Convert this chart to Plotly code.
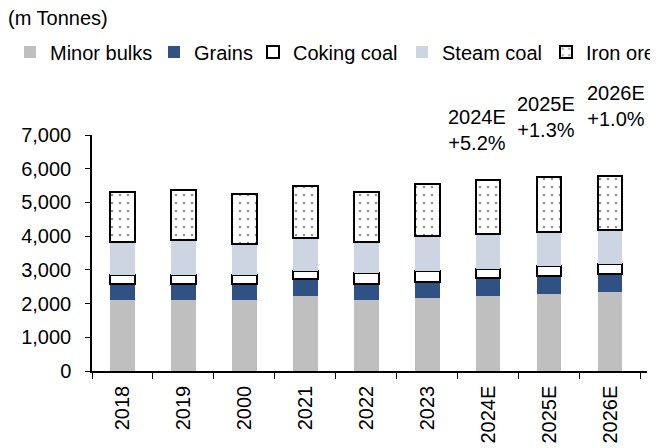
import plotly.graph_objects as go

categories = ["2018", "2019", "2000", "2021", "2022", "2023", "2024E", "2025E", "2026E"]
minor_bulks = [2110, 2110, 2110, 2225, 2110, 2165, 2225, 2285, 2345]
grains = [470, 470, 470, 495, 470, 485, 525, 545, 535]
coking_coal = [260, 280, 280, 255, 320, 315, 265, 290, 290]
steam_coal = [1000, 1030, 910, 960, 940, 1040, 1050, 990, 1000]
iron_ore = [1470, 1480, 1480, 1565, 1470, 1545, 1610, 1630, 1620]
y_ticks = [0, 1000, 2000, 3000, 4000, 5000, 6000, 7000]
growth_labels = [("2024E", "2024E<br>+5.2%"), ("2025E", "2025E<br>+1.3%"), ("2026E", "2026E<br>+1.0%")]

FONT = "Liberation Sans, Arial, sans-serif"
# page body adds an 8px offset; figure drawn 8px in from top-left
OFF = 8
W, H = 650, 440

fig = go.Figure()
fig.add_bar(x=categories, y=minor_bulks, name="Minor bulks", legend="legend",
            marker=dict(color="#BFBFBF", line=dict(width=0)))
fig.add_bar(x=categories, y=grains, name="Grains", legend="legend2",
            marker=dict(color="#2F5183", line=dict(width=0)))
fig.add_bar(x=categories, y=coking_coal, name="Coking coal", legend="legend3",
            marker=dict(color="#FFFFFF", line=dict(width=2, color="#000000")))
fig.add_bar(x=categories, y=steam_coal, name="Steam coal", legend="legend4",
            marker=dict(color="#CED5E2", line=dict(width=0)))
fig.add_bar(x=categories, y=iron_ore, name="Iron ore", legend="legend5",
            marker=dict(color="#FFFFFF", line=dict(width=2, color="#000000"),
                        pattern=dict(shape=".", fgcolor="#2A2A2A", bgcolor="#FFFFFF",
                                     size=8, solidity=0.09)))

shifts = {"2024E": (-11, 1.022), "2025E": (-3, 1.078), "2026E": (6, 1.125)}
for cat, txt in growth_labels:
    xs, yp = shifts[cat]
    fig.add_annotation(x=cat, xref="x", y=yp, yref="paper", text=txt, showarrow=False,
                       xshift=xs, yanchor="middle", xanchor="center",
                       font=dict(family=FONT, size=20, color="#000000"))

# text-start positions of legend entries (reference px)
leg_text_x = [51, 195, 294, 443, 587]
leg_common = dict(orientation="h", xref="container", yref="container",
                  y=1 - (52 - OFF) / H, xanchor="left", yanchor="middle",
                  itemwidth=30, bgcolor="rgba(0,0,0,0)",
                  font=dict(family=FONT, size=20, color="#000000"))
legends = {}
for i, tx in enumerate(leg_text_x):
    key = "legend" if i == 0 else f"legend{i + 1}"
    legends[key] = dict(leg_common, x=(tx - OFF - 41) / W)

fig.update_layout(
    width=W, height=H,
    barmode="stack", bargap=0.594,
    plot_bgcolor="#FFFFFF", paper_bgcolor="#FFFFFF",
    margin=dict(l=92 - OFF, r=11, t=135 - OFF, b=H - (371 - OFF), autoexpand=False),
    font=dict(family=FONT, size=20, color="#000000"),
    title=dict(text="(m Tonnes)", xref="container", yref="container",
               x=0.0, y=1 - (18 - OFF) / H, xanchor="left", yanchor="middle",
               pad=dict(l=0, r=0, t=0, b=0),
               font=dict(family=FONT, size=20, color="#000000")),
    showlegend=True,
    **legends,
)
fig.update_yaxes(range=[0, 7000], tickvals=y_ticks, tickformat=",d",
                 showline=True, linecolor="#000000", linewidth=1.5,
                 ticks="outside", ticklen=5, tickcolor="#000000",
                 ticklabelstandoff=10,
                 showgrid=False, zeroline=False, automargin=False,
                 tickfont=dict(family=FONT, size=20))
fig.update_xaxes(showline=True, linecolor="#000000", linewidth=1.5,
                 ticks="outside", ticklen=6, tickcolor="#000000",
                 ticklabelstandoff=5,
                 tickson="boundaries", tickangle=-90, showgrid=False, automargin=False,
                 tickfont=dict(family=FONT, size=20))

fig.write_html("out.html")
